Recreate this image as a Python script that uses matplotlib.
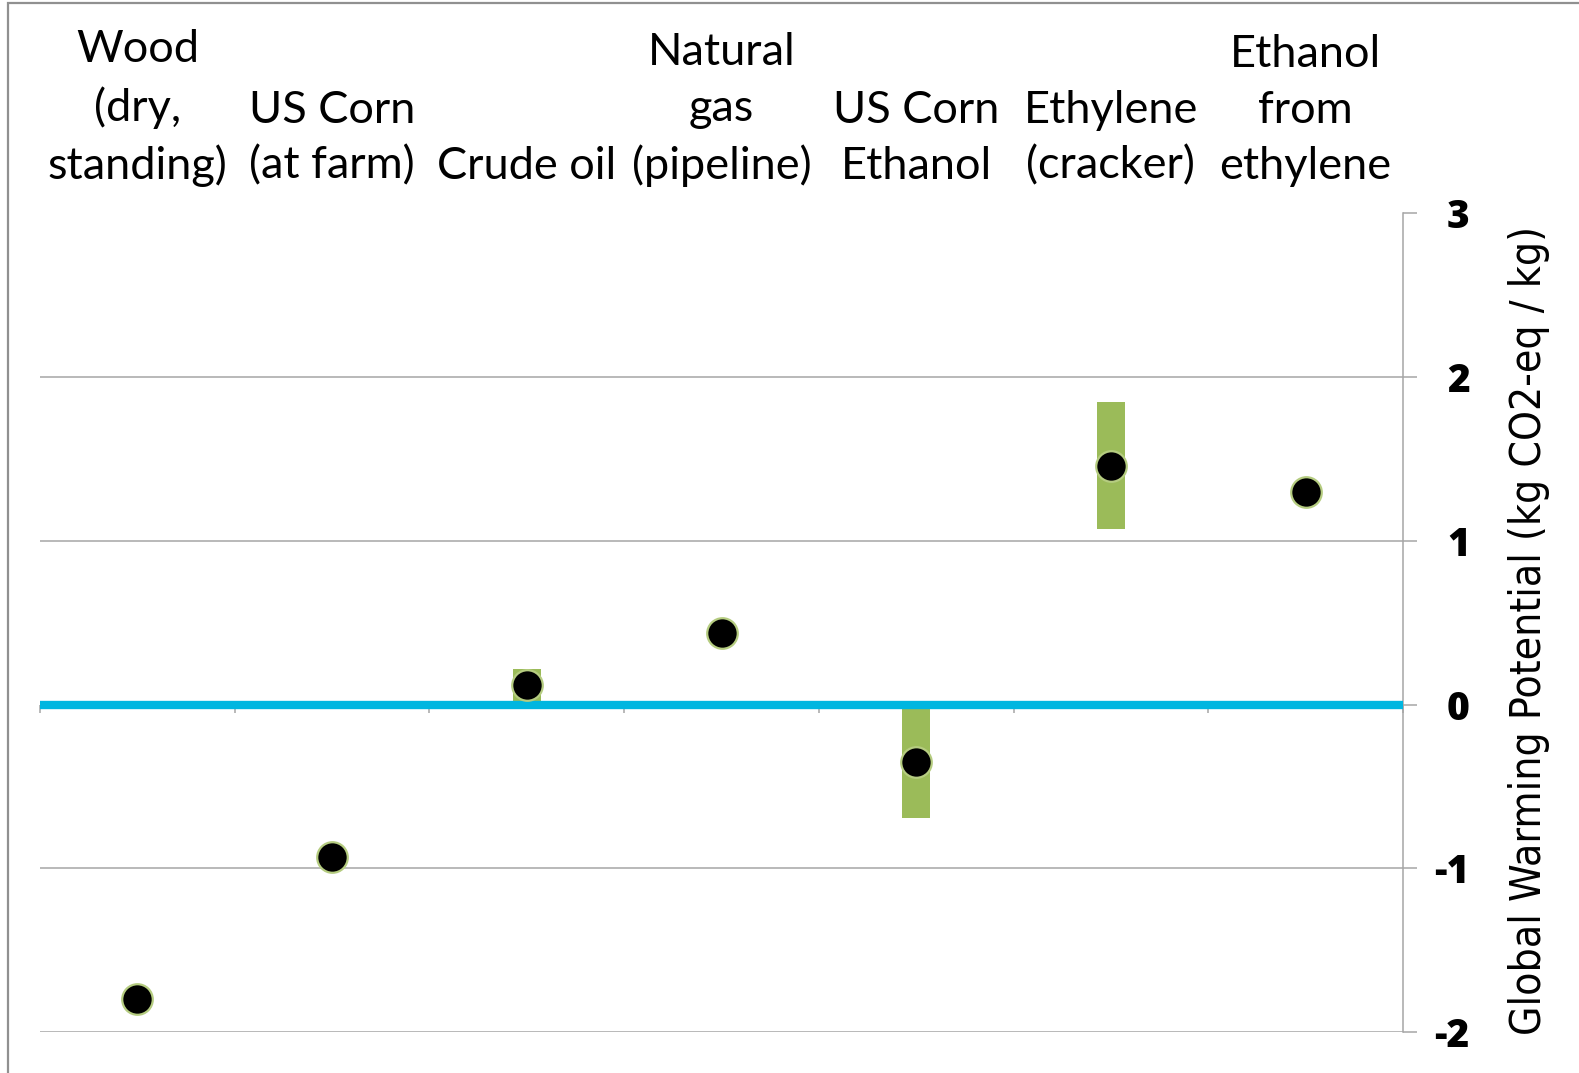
import numpy as np
import matplotlib
matplotlib.use('Agg')
import matplotlib.pyplot as plt
from matplotlib.patches import Rectangle

plt.rcParams['axes.unicode_minus'] = False

# Data
categories = ['Wood\n(dry,\nstanding)', 'US Corn\n(at farm)', 'Crude oil',
              'Natural\ngas\n(pipeline)', 'US Corn\nEthanol', 'Ethylene\n(cracker)',
              'Ethanol\nfrom\nethylene']
gwp = [-1.80, -0.93, 0.12, 0.44, -0.35, 1.46, 1.30]
range_low = [None, None, 0.0, None, -0.69, 1.07, None]
range_high = [None, None, 0.22, None, 0.0, 1.85, None]
yticks = [-2, -1, 0, 1, 2, 3]

W, H = 1579, 1073
fig = plt.figure(figsize=(W / 100, H / 100), dpi=100)
ax = fig.add_axes([40 / W, 1 - 1032 / H, (1403 - 40) / W, (1032 - 213.5) / H])

green = '#9BBB59'
cyan = '#00B6E0'
grid = '#A6A6A6'

x = np.arange(len(categories))

# range bars
for i in range(len(categories)):
    if range_low[i] is not None:
        ax.bar(x[i], range_high[i] - range_low[i], bottom=range_low[i], width=0.145,
               color=green, zorder=2)

ax.axhline(0, color=cyan, lw=6, zorder=3)
ax.plot(x, gwp, 'o', ms=22, mfc='black', mec='#B5CC80', mew=1.6, zorder=4)

ax.set_xlim(-0.5, len(categories) - 0.5)
ax.set_ylim(-2, 3)

# y axis on the right
ax.yaxis.tick_right()
ax.set_yticks(yticks)
ax.tick_params(axis='y', direction='out', length=10, width=1.1, color=grid, pad=38)
for lab in ax.get_yticklabels():
    lab.set_ha('right')
    lab.set_fontweight('heavy')
    lab.set_fontsize(28)
    lab.set_family(['Open Sans', 'DejaVu Sans'])
ax.yaxis.grid(True, color=grid, lw=1.1)
ax.set_axisbelow(True)

ax.set_ylabel('Global Warming Potential (kg CO2-eq / kg)', fontsize=30.5,
              family='DejaVu Sans', fontstretch='condensed', rotation=90)
ax.yaxis.set_label_position('right')
ax.yaxis.set_label_coords(1.077, 0.49)

# x ticks at category boundaries on the zero line
ax.spines['bottom'].set_position(('data', 0))
ax.spines['bottom'].set_visible(False)
ax.set_xticks(np.arange(-0.5, len(categories), 1.0))
ax.set_xticklabels([])
ax.tick_params(axis='x', direction='out', length=6, width=1.1, color=grid)

for s in ['top', 'left']:
    ax.spines[s].set_visible(False)
ax.spines['right'].set_color(grid)
ax.spines['right'].set_linewidth(1.1)

# category names above the plot
for i, name in enumerate(categories):
    ax.annotate(name, xy=(x[i], 1.0), xycoords=('data', 'axes fraction'),
                xytext=(0, 25), textcoords='offset points', ha='center', va='baseline',
                fontsize=32.5, family='Lato', linespacing=1.45, color='black')

# outer frame
fig.patches.append(Rectangle((8 / W, -0.01), 1.1, 1 - 3 / H + 0.01, transform=fig.transFigure,
                             fill=False, edgecolor='#909090', lw=1.6))

fig.savefig('out.png', dpi=100)
